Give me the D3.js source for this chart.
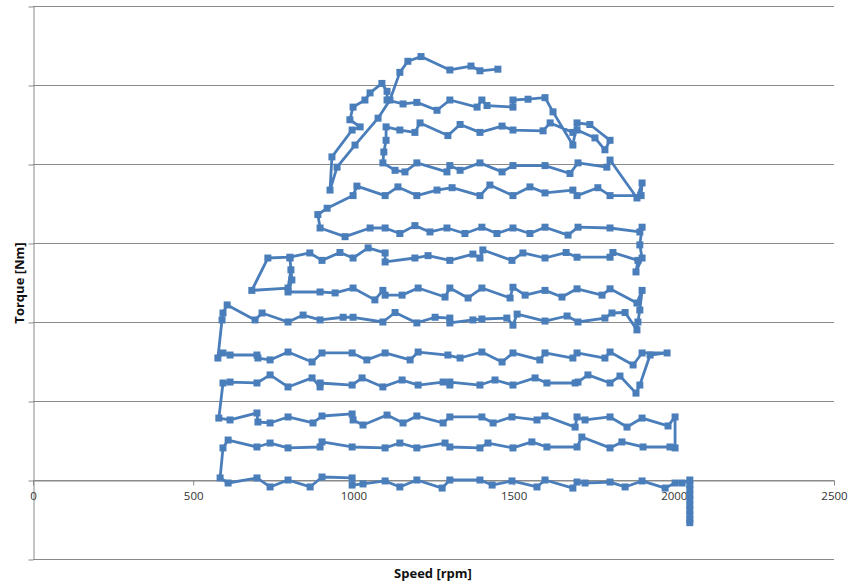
<!DOCTYPE html>
<html>
<head>
<meta charset="utf-8">
<script src="https://cdn.jsdelivr.net/npm/d3@7"></script>
<style>
  html, body { margin: 0; padding: 0; background: #fff; }
  svg { display: block; }
  .tick text { font-family: "Open Sans", "Noto Sans", sans-serif; }
</style>
</head>
<body>
<svg id="chart" width="854" height="587"></svg>
<script>
// Axis ticks
const speedTicks = [0, 500, 1000, 1500, 2000, 2500];
const torqueTicks = [-50, 0, 50, 100, 150, 200, 250, 300];

// Measured operating points [speed rpm, torque Nm], one array per sweep, in recording order
const sweepTop = [[1451,260],[1395,259],[1367,262],[1301,259.5],[1211,268],[1170,265],[1145,258],
  [1114,240.5],[1077,229],[1005,212],[949,198],[927,183.5],[933,204.5],[996,221.5],[1021,223.5],
  [989,228],[999,236],[1036,240.5],[1052,245],[1089,251],[1105,246],[1105,240.5]];
const sweep240 = [[1155,238],[1198,239],[1261,234],[1301,240.5],[1386,236],[1401,240.5],[1417,237],
  [1498,236],[1498,240.5],[1545,241],[1598,242],
  [1623,233],[1685,212],[1698,226],[1738,225],[1801,215],[1785,209],[1754,216.5],[1698,221.5]];
const sweep222 = [[1685,220],[1614,226],[1592,221],[1498,221.5],[1464,224],[1395,220],[1333,225],
  [1295,218],[1208,226],[1192,220],[1145,221.5],[1102,223.5],[1102,215],[1095,207.6]];
const sweep200 = [[1092,200.7],[1130,196],[1161,195],[1198,200.7],[1292,195],[1301,199],[1333,196],
  [1395,200.7],[1464,195],[1498,199],[1598,199],[1676,194],[1701,200.7],[1791,198],[1801,202.5],
  [1885,178.5],[1901,188],[1898,180]];
const sweep183 = [[1801,180],[1763,185],[1698,180],[1685,183.5],[1598,181.7],[1551,185.5],[1498,180],
  [1426,186.7],[1395,180],[1308,185],[1261,183.5],[1198,180],[1139,185.5],[1099,180],[1011,186],
  [999,180],[918,172],[889,168]];
const sweep158 = [[896,159.5],[974,154],[1052,159.5],[1099,159.5],[1145,156],[1192,161],[1239,157],
  [1292,159.5],[1348,156],[1401,160],[1448,156],[1498,159.5],[1551,156],[1598,160],[1670,155],
  [1701,160],[1801,159.5],[1894,157],[1901,160],[1894,148.8],[1901,140.5],[1882,131.7],[1888,139]];
const sweep142 = [[1810,144],[1801,141],[1698,141],[1664,144],[1598,140.5],[1529,143.7],[1495,139],
  [1404,145.6],[1395,140.5],[1373,143],[1301,139],[1233,142],[1192,140.5],[1099,138],[1099,143.7],
  [1046,146.9],[999,140.5],[958,144],[902,139],[864,143.7],[802,141],
  [733,140.5],[683,120],[796,121.5],[805,133],[802,140.5],[808,126.6],[796,119]];
const sweep119 = [[896,119],[943,118.4],[999,121.5],[1067,114],[1092,120],[1099,117],[1152,117],
  [1202,121.5],[1286,115.8],[1301,121.5],[1358,115.2],[1401,121.5],[1489,115.2],[1498,122],
  [1536,117],[1598,120],[1651,115.8],[1698,121],[1776,117],[1801,121],[1885,112],[1901,120],
  [1894,107.6],[1888,100],[1885,95]];
const sweep102 = [[1848,106],[1807,105.7],[1785,102.5],[1701,100],[1667,103.8],[1598,100.6],[1511,105],
  [1498,98],[1479,102.5],[1401,101.9],[1373,101.3],[1301,99.4],[1301,102.5],[1255,103],[1198,99.4],
  [1130,106],[1092,100],[999,103],[968,103],[896,101.3],[843,104.4],[796,100],[715,105.7],
  [693,101.3],[606,110.8],[593,105.7],[590,101.3]];
const sweep79 = [[577,77.2],[593,80.4],[615,79.1],[699,79.1],[702,77.2],[740,76],[796,81],[871,74.7],
  [902,80.4],[996,80.4],[1042,76],[1099,80.4],[1177,76],[1202,81],[1295,79.1],[1333,77.2],[1401,81],
  [1464,74.7],[1498,80.4],[1582,76],[1598,80.4],[1685,77.2],[1698,80.4],[1785,77.2],[1801,81],
  [1873,72.8],[1901,80.4],[1979,80.4],[1926,79.1]];
const sweep61 = [[1894,60.1],[1882,55],[1832,65.8],[1801,61.4],[1732,66.5],[1701,62],[1692,61.4],
  [1604,61.4],[1567,64.6],[1498,60.1],[1442,63.3],[1395,60.1],[1301,62],[1301,60.1],[1280,62],
  [1202,60.1],[1152,63.3],[1092,58.9],[1027,64.6],[996,60.1],[896,61.4],[896,58.9],[871,64.6],
  [796,58.9],[740,66.5],[699,61.4],[615,62],[593,61.4]];
const sweep39 = [[580,39.2],[615,38],[699,42.4],[702,36.7],[740,36.1],[796,39.9],[874,36.1],[902,40.5],
  [996,41.8],[999,38],[1030,34.8],[1105,41.1],[1155,36.1],[1198,40.5],[1280,36.1],[1301,39.9],
  [1401,39.9],[1436,36.1],[1495,39.9],[1573,38],[1598,40.5],[1692,33.5],[1698,39.9],[1723,38],
  [1801,39.9],[1854,33.5],[1901,39.2],[1982,34.2],[2004,39.9]];
const sweep21 = [[2004,20.3],[1988,20.9],[1904,20.9],[1838,24.1],[1801,20.3],[1713,27.2],[1698,20.9],
  [1604,20.9],[1557,24.1],[1498,20.3],[1420,23.4],[1395,20.3],[1301,20.9],[1286,23.4],[1198,20.3],
  [1145,23.4],[1099,20.3],[996,20.9],[902,24.1],[896,20.9],[796,20.3],[740,23.4],[699,20.9],
  [609,25.3],[593,20.3]];
const sweep0 = [[584,1.3],[609,-1.9],[699,1.3],[740,-4.4],[796,0],[865,-4.4],[902,1.9],[996,1.3],
  [996,-3.2],[1030,-2.5],[1099,-0.6],[1145,-4.4],[1198,0],[1277,-5.1],[1301,0],[1395,0],[1433,-3.2],
  [1495,-0.6],[1573,-4.4],[1598,0],[1685,-5.1],[1698,-1.3],[1723,-1.9],[1801,-1.3],[1848,-4.4],
  [1901,-0.6],[1973,-5.1],[2004,-1.9],[2026,-1.9]];
const sweepTail = [[2050,0],[2050,-3],[2050,-6],[2050,-9.5],[2050,-12.5],[2050,-16],[2050,-19],
  [2050,-22],[2050,-25],[2050,-27]];

const points = [].concat(sweepTop, sweep240, sweep222, sweep200, sweep183, sweep158, sweep142,
  sweep119, sweep102, sweep79, sweep61, sweep39, sweep21, sweep0, sweepTail);

const svg = d3.select("#chart");
const margin = { left: 33, right: 20, top: 6, bottom: 28 };
const W = 854, H = 587;

const x = d3.scaleLinear().domain([0, 2500]).range([margin.left, W - margin.right]);
const y = d3.scaleLinear().domain([-50, 300]).range([H - margin.bottom, margin.top]);

const gridColor = "#8a8a8a";
const blue = "#4a7ebb";

// horizontal gridlines
svg.append("g")
  .selectAll("line")
  .data(torqueTicks)
  .join("line")
  .attr("x1", x(0)).attr("x2", x(2500))
  .attr("y1", d => Math.round(y(d)) + 0.5).attr("y2", d => Math.round(y(d)) + 0.5)
  .attr("stroke", gridColor).attr("stroke-width", 1);

// y axis (unlabelled ticks)
const yAxis = svg.append("g")
  .attr("transform", `translate(${x(0) + 0.5},0)`)
  .call(d3.axisLeft(y).tickValues(torqueTicks).tickFormat("").tickSize(5).tickSizeOuter(0));
yAxis.select(".domain").attr("stroke", gridColor);
yAxis.selectAll(".tick line").attr("stroke", gridColor)
  .attr("transform", "translate(0,0.5)");

// x axis at zero torque
const xAxis = svg.append("g")
  .attr("transform", `translate(0,${Math.round(y(0)) + 0.5})`)
  .call(d3.axisBottom(x).tickValues(speedTicks).tickFormat(d3.format("d")).tickSize(5).tickSizeOuter(0).tickPadding(6));
xAxis.select(".domain").attr("stroke", gridColor);
xAxis.selectAll(".tick line").attr("stroke", gridColor);
xAxis.selectAll(".tick text")
  .attr("font-size", 11.5).attr("fill", "#333");

// series line
svg.append("path")
  .datum(points)
  .attr("fill", "none")
  .attr("stroke", blue)
  .attr("stroke-width", 2.8)
  .attr("stroke-linejoin", "round")
  .attr("d", d3.line().x(d => x(d[0])).y(d => y(d[1])));

// square markers
const ms = 7;
svg.append("g")
  .selectAll("rect")
  .data(points)
  .join("rect")
  .attr("x", d => x(d[0]) - ms / 2)
  .attr("y", d => y(d[1]) - ms / 2)
  .attr("width", ms).attr("height", ms)
  .attr("fill", blue);

// axis titles
svg.append("text")
  .attr("x", 433).attr("y", 578)
  .attr("text-anchor", "middle")
  .attr("font-family", "'Open Sans', 'Noto Sans', sans-serif")
  .attr("font-weight", "bold").attr("font-size", 13)
  .attr("fill", "#111")
  .text("Speed [rpm]");

svg.append("text")
  .attr("transform", "translate(24,283) rotate(-90)")
  .attr("text-anchor", "middle")
  .attr("font-family", "'Open Sans', 'Noto Sans', sans-serif")
  .attr("font-weight", "bold").attr("font-size", 13)
  .attr("fill", "#111")
  .text("Torque [Nm]");
</script>
</body>
</html>
